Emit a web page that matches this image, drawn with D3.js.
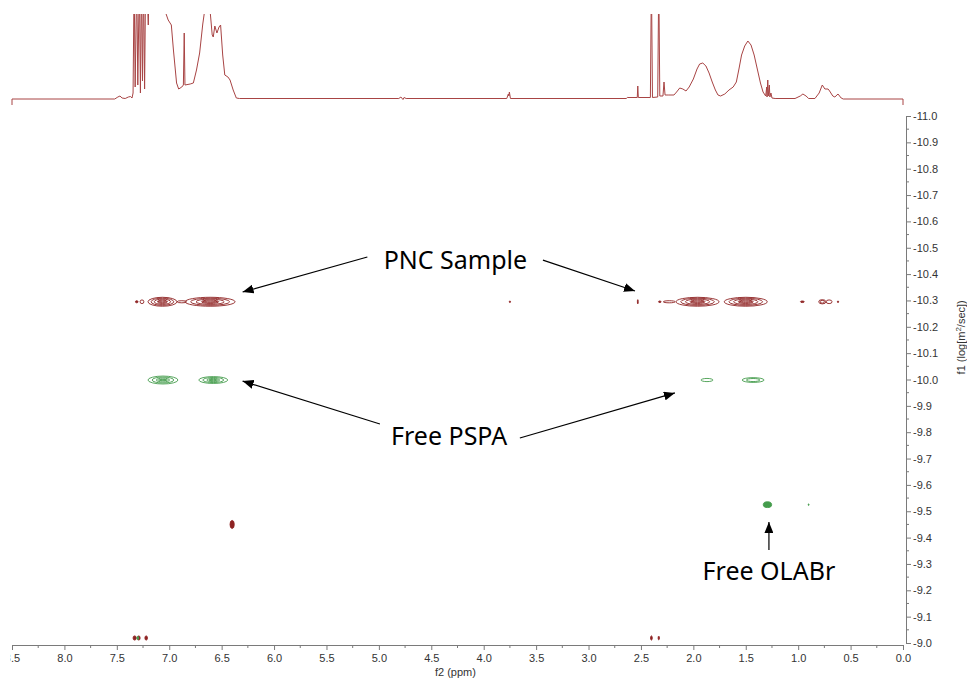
<!DOCTYPE html>
<html>
<head>
<meta charset="utf-8">
<script src="https://cdn.jsdelivr.net/npm/d3@7"></script>
<style>
  body { margin: 0; background: #fff; }
  svg { display: block; }
  .tick text { font-family: "Liberation Sans", "DejaVu Sans", sans-serif; font-size: 11px; fill: #333; }
  .axis path, .axis line { stroke: #7a7a7a; }
  .note { font-family: "Noto Sans", "Open Sans", sans-serif; font-size: 25px; fill: #000; }
</style>
</head>
<body>
<div id="chart"></div>
<script>
// 1D projection on top: [ppm, height above baseline]
var traceData = [
  [8.50, -6], [8.50, 0], [7.52, 0], [7.49, 2], [7.47, 3], [7.45, 1], [7.42, 0.5], [7.39, 2], [7.37, 2.5], [7.355, 1],
  [7.345, 6], [7.335, 120], [7.325, 12], [7.31, 120], [7.30, 14], [7.285, 120], [7.275, 6], [7.265, 120],
  [7.255, 18], [7.245, 120], [7.235, 10], [7.225, 120], [7.215, 120], [7.20, 74], [7.19, 120], [7.04, 120],
  [7.03, 85], [7.01, 79], [6.98, 74], [6.96, 49], [6.93, 16], [6.91, 10], [6.88, 12], [6.865, 14], [6.857, 66],
  [6.85, 14], [6.80, 15], [6.77, 16], [6.74, 29], [6.71, 46], [6.68, 75], [6.66, 90], [6.65, 120], [6.62, 120],
  [6.61, 88], [6.59, 64], [6.58, 62], [6.565, 73], [6.545, 66], [6.525, 72], [6.51, 74], [6.49, 44],
  [6.47, 24], [6.44, 22], [6.42, 19], [6.39, 9], [6.36, 1], [6.33, 0.5],
  [4.81, 0.5], [4.79, 2], [4.77, -0.5], [4.76, 1.5], [4.74, 0.5],
  [3.78, 0.5], [3.765, 5], [3.76, 3], [3.755, 7], [3.745, 0.5],
  [2.64, 0.5], [2.63, 1.5], [2.535, 1.5], [2.53, 13], [2.525, 1.5], [2.41, 1.5], [2.40, 120], [2.39, 1.5],
  [2.34, 2], [2.33, 120], [2.32, 3], [2.29, 3], [2.28, 17], [2.27, 4], [2.24, 4], [2.185, 4], [2.16, 7],
  [2.13, 11], [2.10, 10], [2.07, 8], [2.04, 12], [2.00, 20], [1.965, 30], [1.94, 35], [1.91, 36],
  [1.88, 33], [1.85, 26], [1.82, 17], [1.79, 9], [1.765, 4], [1.74, 3], [1.70, 5], [1.66, 9], [1.62, 12],
  [1.59, 17], [1.565, 30], [1.54, 44], [1.51, 53], [1.48, 58], [1.45, 54], [1.42, 44], [1.39, 30],
  [1.36, 16], [1.335, 7], [1.31, 3], [1.30, 12], [1.297, 2], [1.29, 19], [1.285, 3], [1.275, 14],
  [1.27, 2], [1.26, 6], [1.25, 1], [1.22, 0.5], [1.03, 0.5], [0.98, 3], [0.955, 5], [0.925, 3],
  [0.90, 0.5], [0.84, 0.5], [0.80, 6], [0.77, 14], [0.745, 10], [0.715, 10], [0.70, 8], [0.67, 3],
  [0.65, 2], [0.62, 5], [0.59, 1], [0.57, 0], [0.00, 0], [0.00, -6]
];

// 2D contour peaks: [ppm, logD, half width (ppm), half height (logD), contour levels, filled]
var pncPeaks = [
  [7.31, -10.295, 0.012, 0.004, 1, true],
  [7.26, -10.295, 0.018, 0.007, 1, false],
  [7.065, -10.295, 0.138, 0.017, 4, false],
  [6.88, -10.295, 0.045, 0.004, 1, false],
  [6.61, -10.295, 0.238, 0.017, 4, false],
  [3.75, -10.295, 0.006, 0.003, 1, true],
  [2.53, -10.295, 0.004, 0.008, 1, true],
  [2.32, -10.295, 0.012, 0.003, 1, true],
  [2.23, -10.295, 0.057, 0.004, 1, false],
  [1.96, -10.295, 0.205, 0.017, 4, false],
  [1.50, -10.295, 0.205, 0.017, 4, false],
  [0.96, -10.295, 0.018, 0.003, 1, true],
  [0.77, -10.295, 0.034, 0.008, 2, false],
  [0.705, -10.295, 0.028, 0.007, 1, false],
  [0.62, -10.295, 0.006, 0.003, 1, true],
  [6.40, -9.45, 0.02, 0.015, 1, true],
  [7.33, -9.019, 0.015, 0.008, 1, true],
  [7.29, -9.019, 0.012, 0.008, 1, true],
  [7.22, -9.019, 0.012, 0.008, 1, true],
  [2.40, -9.019, 0.008, 0.008, 1, true],
  [2.33, -9.019, 0.006, 0.007, 1, true]
];

var freePeaks = [
  [7.06, -9.998, 0.143, 0.015, 3, false],
  [6.58, -9.998, 0.138, 0.013, 3, false],
  [1.87, -9.998, 0.057, 0.006, 1, false],
  [1.43, -9.998, 0.105, 0.009, 2, false],
  [1.293, -9.525, 0.04, 0.011, 1, true],
  [0.90, -9.525, 0.004, 0.003, 1, true],
  [7.30, -9.019, 0.008, 0.006, 1, true]
];

// tick values
var xTicks = d3.range(0, 8.51, 0.5);
var xMinor = d3.range(0.25, 8.5, 0.5);
var yTicks = d3.range(-11, -8.99, 0.1);
var yMinor = d3.range(-10.95, -9, 0.1);

// annotations: label, label position and arrows (tail -> head) in data units
var labels = [
  ["PNC Sample", 4.27, -10.42],
  ["Free PSPA", 4.33, -9.753],
  ["Free OLABr", 1.279, -9.24]
];
var arrows = [
  [5.11, -10.465, 6.30, -10.332],
  [3.435, -10.453, 2.557, -10.336],
  [4.99, -9.831, 6.30, -9.994],
  [3.655, -9.778, 2.176, -9.949],
  [1.279, -9.353, 1.279, -9.459]
];

var svgWidth = 967;
var svgHeight = 680;

var svg = d3.select("#chart")
  .append("svg")
  .attr("width", svgWidth)
  .attr("height", svgHeight);

var x = d3.scaleLinear().domain([8.5, 0]).range([12, 903]);
var y = d3.scaleLinear().domain([-11, -9]).range([116, 643]);
var yTop = d3.scaleLinear().domain([0, 85]).range([99, 14]);

var red = "#8e2222";
var green = "#449c4c";

// clip for the projection
svg.append("clipPath").attr("id", "topclip")
  .append("rect").attr("x", 0).attr("y", 14).attr("width", svgWidth).attr("height", 100);

svg.append("path")
  .datum(traceData)
  .attr("clip-path", "url(#topclip)")
  .attr("fill", "none")
  .attr("stroke", "#a84444")
  .attr("stroke-width", 1)
  .attr("d", d3.line().x(d => x(d[0])).y(d => yTop(d[1])));

// contours
function drawPeaks(peaks, color) {
  var g = svg.append("g");
  peaks.forEach(function(p) {
    var n = p[4];
    for (var i = 0; i < n; i++) {
      var f = 1 - i / (n + 0.6);
      var fy = 1 - i / (n + 0.8);
      g.append("ellipse")
        .attr("cx", x(p[0]))
        .attr("cy", y(p[1]))
        .attr("rx", Math.abs(x(p[0] + p[2] * f) - x(p[0])))
        .attr("ry", Math.abs(y(p[1] + p[3] * fy) - y(p[1])))
        .attr("fill", p[5] ? color : "none")
        .attr("stroke", color)
        .attr("stroke-width", 0.9);
    }
    if (n > 2) {
      // inner flat core
      g.append("ellipse")
        .attr("cx", x(p[0]))
        .attr("cy", y(p[1]))
        .attr("rx", Math.abs(x(p[0] + p[2] * 0.3) - x(p[0])))
        .attr("ry", 0.6)
        .attr("fill", "none")
        .attr("stroke", color)
        .attr("stroke-width", 0.9);
    }
  });
}
drawPeaks(pncPeaks, red);
drawPeaks(freePeaks, green);

// x axis
svg.append("clipPath").attr("id", "xclip")
  .append("rect").attr("x", 10.5).attr("y", -5).attr("width", 960).attr("height", 40);

var xAxis = svg.append("g")
  .attr("class", "axis")
  .attr("clip-path", "url(#xclip)")
  .attr("transform", "translate(0, 645)")
  .call(d3.axisBottom(x).tickValues(xTicks).tickSize(5).tickSizeOuter(0).tickPadding(4)
    .tickFormat(d => d.toFixed(1)));

xAxis.selectAll(".minor")
  .data(xMinor).enter()
  .append("line")
  .attr("x1", d => x(d)).attr("x2", d => x(d))
  .attr("y1", 0).attr("y2", 3)
  .attr("stroke", "#7a7a7a");

svg.append("text")
  .attr("x", x(4.27))
  .attr("y", 676)
  .attr("text-anchor", "middle")
  .attr("font-family", "Liberation Sans, DejaVu Sans, sans-serif")
  .attr("font-size", "11px")
  .attr("fill", "#333")
  .text("f2 (ppm)");

// y axis on the right
var yAxis = svg.append("g")
  .attr("class", "axis")
  .attr("transform", "translate(906, 0)")
  .call(d3.axisRight(y).tickValues(yTicks).tickSize(5).tickSizeOuter(0).tickPadding(2)
    .tickFormat(d => d.toFixed(1)));

yAxis.selectAll(".minor")
  .data(yMinor).enter()
  .append("line")
  .attr("x1", 0).attr("x2", 3)
  .attr("y1", d => y(d)).attr("y2", d => y(d))
  .attr("stroke", "#7a7a7a");

svg.append("text")
  .attr("transform", "translate(965, " + y(-10.16) + ") rotate(-90)")
  .attr("text-anchor", "middle")
  .attr("font-family", "Liberation Sans, DejaVu Sans, sans-serif")
  .attr("font-size", "11px")
  .attr("fill", "#333")
  .html("f1 (log[m<tspan baseline-shift='super' font-size='8px'>2</tspan>/sec])");

// annotations
svg.append("defs").append("marker")
  .attr("id", "head")
  .attr("viewBox", "0 0 10 10")
  .attr("refX", 10).attr("refY", 5)
  .attr("markerWidth", 11).attr("markerHeight", 9)
  .attr("markerUnits", "userSpaceOnUse")
  .attr("orient", "auto")
  .attr("preserveAspectRatio", "none")
  .append("path")
  .attr("d", "M0,0 L10,5 L0,10 Z")
  .attr("fill", "#000");

svg.append("g").selectAll("line")
  .data(arrows).enter()
  .append("line")
  .attr("x1", d => x(d[0])).attr("y1", d => y(d[1]))
  .attr("x2", d => x(d[2])).attr("y2", d => y(d[3]))
  .attr("stroke", "#000")
  .attr("stroke-width", 1.2)
  .attr("marker-end", "url(#head)");

svg.append("g").selectAll("text")
  .data(labels).enter()
  .append("text")
  .attr("class", "note")
  .attr("x", d => x(d[1]))
  .attr("y", d => y(d[2]))
  .attr("text-anchor", "middle")
  .text(d => d[0]);
</script>
</body>
</html>
